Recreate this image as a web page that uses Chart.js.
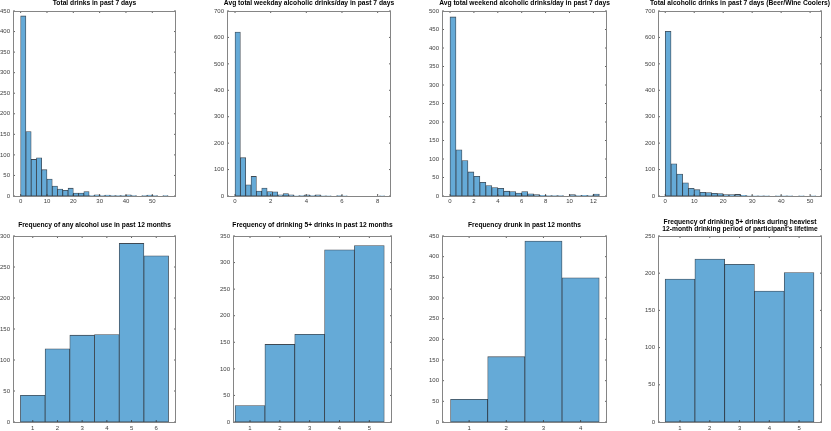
<!DOCTYPE html>
<html>
<head>
<meta charset="utf-8">
<script src="https://cdn.jsdelivr.net/npm/chart.js"></script>
<style>
  html, body { margin: 0; padding: 0; background: #fff; overflow: hidden; }
  #wrap { position: relative; width: 831px; height: 431px; overflow: hidden; }
  #wrap canvas { position: absolute; }
</style>
</head>
<body>
<div id="wrap"></div>
<script>
// ---------- dados ----------
const titles = [
  "Total drinks in past 7 days",
  "Avg total weekday alcoholic drinks/day in past 7 days",
  "Avg total weekend alcoholic drinks/day in past 7 days",
  "Total alcoholic drinks in past 7 days (Beer/Wine Coolers)",
  "Frequency of any alcohol use in past 12 months",
  "Frequency of drinking 5+ drinks in past 12 months",
  "Frequency drunk in past 12 months",
  ["Frequency of drinking 5+ drinks during heaviest", "12-month drinking period of participant's lifetime"]
];

// centros dos bins
const bins1 = [1, 3, 5, 7, 9, 11, 13, 15, 17, 19, 21, 23, 25, 27, 29, 31, 33, 35, 37, 39, 41, 43, 45, 47, 49, 51, 53, 55];
const bins2 = [0.15, 0.45, 0.75, 1.05, 1.35, 1.65, 1.95, 2.25, 2.55, 2.85, 3.15, 3.45, 3.75, 4.05, 4.35, 4.65, 4.95, 5.25, 5.55, 5.85, 6.15, 6.45, 6.75, 7.05, 7.35, 7.65, 7.95, 8.25];
const bins3 = [0.25, 0.75, 1.25, 1.75, 2.25, 2.75, 3.25, 3.75, 4.25, 4.75, 5.25, 5.75, 6.25, 6.75, 7.25, 7.75, 8.25, 8.75, 9.25, 9.75, 10.25, 10.75, 11.25, 11.75, 12.25];
const bins4 = [1, 3, 5, 7, 9, 11, 13, 15, 17, 19, 21, 23, 25, 27, 29, 31, 33, 35, 37, 39, 41, 43, 45, 47, 49, 51];
const bins5 = [1, 2, 3, 4, 5, 6];
const bins6 = [1, 2, 3, 4, 5];
const bins7 = [1, 2, 3, 4];
const bins8 = [1, 2, 3, 4, 5];

// contagens
const counts1 = [438, 157, 89, 93, 64, 41, 24, 17, 14, 19, 7, 7, 11, 1, 3, 1, 2, 1, 1, 1, 3, 1, 0, 1, 2, 1, 0, 1];
const counts2 = [620, 145, 42, 74, 19, 30, 17, 16, 4, 9, 4, 1, 2, 4, 2, 4, 1, 1, 0, 2, 1, 0, 0, 0, 0, 0, 0, 1];
const counts3 = [484, 125, 96, 65, 53, 37, 28, 23, 21, 13, 12, 8, 12, 6, 4, 2, 1, 1, 1, 0, 4, 1, 2, 1, 5];
const counts4 = [623, 122, 83, 50, 29, 24, 14, 13, 10, 9, 5, 5, 6, 3, 1, 1, 1, 1, 0, 1, 1, 1, 0, 1, 0, 1];
const counts5 = [43, 118, 140, 141, 288, 268];
const counts6 = [31, 146, 165, 324, 332];
const counts7 = [55, 158, 438, 349];
const counts8 = [192, 219, 212, 176, 201];

// ticks
const xTicks1 = [0, 10, 20, 30, 40, 50];
const xTicks2 = [0, 2, 4, 6, 8];
const xTicks3 = [0, 2, 4, 6, 8, 10, 12];
const xTicks4 = [0, 10, 20, 30, 40, 50];
const xTicks5 = [1, 2, 3, 4, 5, 6];
const xTicks6 = [1, 2, 3, 4, 5];
const xTicks7 = [1, 2, 3, 4];
const xTicks8 = [1, 2, 3, 4, 5];

const yTicks1 = [0, 50, 100, 150, 200, 250, 300, 350, 400, 450];
const yTicks2 = [0, 100, 200, 300, 400, 500, 600, 700];
const yTicks3 = [0, 50, 100, 150, 200, 250, 300, 350, 400, 450, 500];
const yTicks4 = [0, 100, 200, 300, 400, 500, 600, 700];
const yTicks5 = [0, 50, 100, 150, 200, 250, 300];
const yTicks6 = [0, 50, 100, 150, 200, 250, 300, 350];
const yTicks7 = [0, 50, 100, 150, 200, 250, 300, 350, 400, 450];
const yTicks8 = [0, 50, 100, 150, 200, 250];

// limites dos eixos x
const xLimits = [[-2.9, 59], [-0.45, 8.75], [-0.67, 13.14], [-2.5, 54.1], [0.2, 6.8], [0.43, 5.76], [0.27, 4.71], [0.26, 5.77]];

// ---------- layout ----------
const boxes = [
  [13, 11, 176, 196], [227, 11, 391, 196], [442, 11, 607, 196], [658, 11, 822, 196],
  [13, 236, 176, 422], [233, 236, 392, 422], [442, 236, 607, 422], [658, 236, 822, 422]
];
const M = 32;
const FONT = '"Liberation Sans", Arial, Helvetica, sans-serif';
const FACE = "rgb(101,170,215)";
const EDGE = "rgba(15,28,40,0.8)";

// caixa + ticks para dentro (estilo MATLAB)
const boxPlugin = {
  id: "boxPlugin",
  afterDraw(chart) {
    const { ctx, chartArea: a, scales } = chart;
    const x = scales.x, y = scales.y;
    ctx.save();
    ctx.strokeStyle = "#3a3a3a";
    ctx.lineWidth = 0.8;
    ctx.beginPath();
    x.ticks.forEach((t) => {
      const px = x.getPixelForValue(t.value);
      ctx.moveTo(px, a.bottom); ctx.lineTo(px, a.bottom - 2);
      ctx.moveTo(px, a.top); ctx.lineTo(px, a.top + 2);
    });
    y.ticks.forEach((t) => {
      const py = y.getPixelForValue(t.value);
      ctx.moveTo(a.left, py); ctx.lineTo(a.left + 2, py);
      ctx.moveTo(a.right, py); ctx.lineTo(a.right - 2, py);
    });
    ctx.stroke();
    ctx.strokeStyle = "#858585";
    ctx.lineWidth = 1;
    ctx.strokeRect(a.left + 0.5, a.top + 0.5, a.right - a.left - 1, a.bottom - a.top);
    ctx.restore();
  }
};

function makePanel(i, bins, counts, xTicks, yTicks) {
  const [l, t, r, b] = boxes[i];
  const topRow = t < 100;
  const top = topRow ? 0 : 214;
  const xh = topRow ? 16 : 14;
  const twoLines = Array.isArray(titles[i]);

  const cv = document.createElement("canvas");
  cv.width = r - l + 2 * M;
  cv.height = b - top + xh;
  cv.style.left = (l - M) + "px";
  cv.style.top = top + "px";
  document.getElementById("wrap").appendChild(cv);

  let tPad, lh;
  if (topRow) { tPad = { top: 0, bottom: 4 }; lh = "7px"; }
  else if (twoLines) { tPad = { top: 4, bottom: 3.4 }; lh = "7.3px"; }
  else { tPad = { top: 7.5, bottom: 7.5 }; lh = "7px"; }

  const tickFont = { family: FONT, size: 6 };

  new Chart(cv, {
    type: "bar",
    data: {
      datasets: [{
        data: bins.map((c, k) => ({ x: c, y: counts[k] })),
        backgroundColor: FACE,
        borderColor: EDGE,
        borderWidth: 0.8,
        borderSkipped: false,
        barPercentage: 1,
        categoryPercentage: 1
      }]
    },
    options: {
      responsive: false,
      animation: false,
      devicePixelRatio: 1,
      layout: { padding: 0 },
      plugins: {
        legend: { display: false },
        tooltip: { enabled: false },
        title: {
          display: true,
          text: titles[i],
          color: "#000",
          font: { family: FONT, size: 6.7, weight: "bold", lineHeight: lh },
          padding: tPad
        }
      },
      scales: {
        x: {
          type: "linear",
          min: xLimits[i][0],
          max: xLimits[i][1],
          offset: false,
          grid: { display: false, drawTicks: false },
          border: { display: false },
          afterBuildTicks: (s) => { s.ticks = xTicks.map((v) => ({ value: v })); },
          afterFit: (s) => { s.height = xh; },
          ticks: {
            padding: topRow ? 2 : 3,
            font: tickFont,
            color: "#404040",
            maxRotation: 0,
            autoSkip: false,
            callback: (v) => String(v)
          }
        },
        y: {
          position: "left",
          min: 0,
          max: yTicks[yTicks.length - 1],
          grid: { display: false, drawTicks: false },
          border: { display: false },
          afterBuildTicks: (s) => { s.ticks = yTicks.map((v) => ({ value: v })); },
          afterFit: (s) => { s.width = M; },
          ticks: {
            padding: 3,
            font: tickFont,
            color: "#404040",
            autoSkip: false,
            callback: (v) => String(v)
          }
        },
        // eixo vazio à direita só para deixar a caixa centrada sob o título
        yR: {
          position: "right",
          min: 0,
          max: 1,
          grid: { display: false, drawTicks: false },
          border: { display: false },
          ticks: { display: false },
          afterFit: (s) => { s.width = M; }
        }
      }
    },
    plugins: [boxPlugin]
  });
}

makePanel(0, bins1, counts1, xTicks1, yTicks1);
makePanel(1, bins2, counts2, xTicks2, yTicks2);
makePanel(2, bins3, counts3, xTicks3, yTicks3);
makePanel(3, bins4, counts4, xTicks4, yTicks4);
makePanel(4, bins5, counts5, xTicks5, yTicks5);
makePanel(5, bins6, counts6, xTicks6, yTicks6);
makePanel(6, bins7, counts7, xTicks7, yTicks7);
makePanel(7, bins8, counts8, xTicks8, yTicks8);
</script>
</body>
</html>
